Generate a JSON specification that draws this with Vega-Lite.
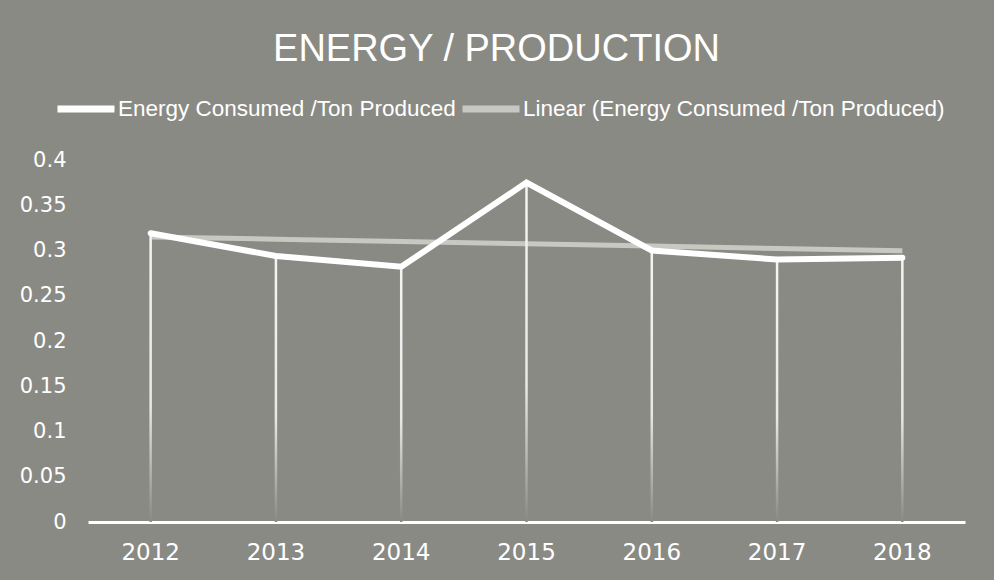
{
  "$schema": "https://vega.github.io/schema/vega-lite/v6.json",
  "width": 877,
  "height": 362,
  "autosize": {"type": "none"},
  "padding": {"left": 88, "top": 160, "right": 29, "bottom": 58},
  "background": "#8a8a84",
  "title": {
    "text": "ENERGY / PRODUCTION",
    "font": "Liberation Sans",
    "fontSize": 38,
    "fontWeight": "normal",
    "color": "#ffffff",
    "anchor": "middle",
    "dx": -30,
    "offset": 8
  },
  "config": {
    "view": {"stroke": null},
    "legend": {
      "orient": "none",
      "legendX": -34,
      "legendY": -83,
      "direction": "horizontal",
      "symbolType": "stroke",
      "symbolSize": 3249,
      "symbolStrokeWidth": 7,
      "labelFont": "Liberation Sans",
      "labelFontSize": 22.5,
      "labelColor": "#ffffff",
      "labelOffset": 0,
      "columnPadding": -8,
      "labelLimit": 0,
      "title": null
    }
  },
  "data": {
    "values": [
      {"year": "2012", "series": "Energy Consumed /Ton Produced", "value": 0.319},
      {"year": "2013", "series": "Energy Consumed /Ton Produced", "value": 0.294},
      {"year": "2014", "series": "Energy Consumed /Ton Produced", "value": 0.282},
      {"year": "2015", "series": "Energy Consumed /Ton Produced", "value": 0.375},
      {"year": "2016", "series": "Energy Consumed /Ton Produced", "value": 0.300},
      {"year": "2017", "series": "Energy Consumed /Ton Produced", "value": 0.290},
      {"year": "2018", "series": "Energy Consumed /Ton Produced", "value": 0.292},
      {"year": "2012", "series": "Linear (Energy Consumed /Ton Produced)", "value": 0.315},
      {"year": "2013", "series": "Linear (Energy Consumed /Ton Produced)", "value": 0.3125},
      {"year": "2014", "series": "Linear (Energy Consumed /Ton Produced)", "value": 0.310},
      {"year": "2015", "series": "Linear (Energy Consumed /Ton Produced)", "value": 0.3074},
      {"year": "2016", "series": "Linear (Energy Consumed /Ton Produced)", "value": 0.3049},
      {"year": "2017", "series": "Linear (Energy Consumed /Ton Produced)", "value": 0.3023},
      {"year": "2018", "series": "Linear (Energy Consumed /Ton Produced)", "value": 0.2998}
    ]
  },
  "encoding": {
    "x": {
      "field": "year",
      "type": "ordinal",
      "scale": {"paddingInner": 0, "paddingOuter": 0},
      "axis": {
        "title": null,
        "labelAngle": 0,
        "labelFont": "DejaVu Sans",
        "labelFontSize": 23,
        "labelColor": "#ffffff",
        "labelPadding": 19,
        "ticks": false,
        "domainColor": "#ffffff",
        "domainWidth": 3,
        "grid": false
      }
    },
    "y": {
      "field": "value",
      "type": "quantitative",
      "scale": {"domain": [0, 0.4], "nice": false},
      "axis": {
        "title": null,
        "values": [0, 0.05, 0.1, 0.15, 0.2, 0.25, 0.3, 0.35, 0.4],
        "format": "~g",
        "labelFont": "DejaVu Sans",
        "labelFontSize": 21,
        "labelColor": "#ffffff",
        "labelPadding": 22,
        "ticks": false,
        "domain": false,
        "grid": false
      }
    }
  },
  "layer": [
    {
      "transform": [{"filter": "datum.series == 'Linear (Energy Consumed /Ton Produced)'"}],
      "mark": {"type": "line", "strokeWidth": 5, "strokeCap": "butt"},
      "encoding": {
        "color": {
          "field": "series",
          "type": "nominal",
          "scale": {
            "domain": ["Energy Consumed /Ton Produced", "Linear (Energy Consumed /Ton Produced)"],
            "range": ["#ffffff", "#c8c8c3"]
          }
        }
      }
    },
    {
      "transform": [{"filter": "datum.series == 'Energy Consumed /Ton Produced'"}],
      "mark": {
        "type": "bar",
        "size": 2.5,
        "fill": {
          "gradient": "linear",
          "x1": 0, "y1": 0, "x2": 0, "y2": 1,
          "stops": [
            {"offset": 0, "color": "#f4f4f2"},
            {"offset": 0.6, "color": "#e8e8e6"},
            {"offset": 1, "color": "#8a8a84"}
          ]
        }
      }
    },
    {
      "transform": [{"filter": "datum.series == 'Energy Consumed /Ton Produced'"}],
      "mark": {"type": "line", "strokeWidth": 6, "strokeCap": "round", "strokeJoin": "miter"},
      "encoding": {
        "color": {"field": "series", "type": "nominal"}
      }
    }
  ]
}
